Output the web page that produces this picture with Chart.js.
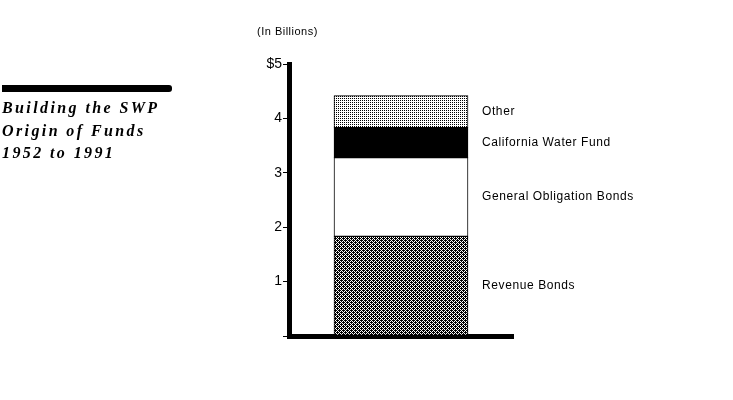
<!DOCTYPE html>
<html>
<head>
<meta charset="utf-8">
<script src="https://cdn.jsdelivr.net/npm/chart.js@4.4.0/dist/chart.umd.min.js"></script>
<style>
  body { margin: 0; background: #fff; }
  #wrap { position: relative; width: 733px; height: 400px; }
  #fundChart { position: absolute; left: 0; top: 0; }
  .rule { position: absolute; left: 2px; top: 85px; width: 170px; height: 7px; background: #000; border-radius: 0 3px 3px 0; }
  .title { position: absolute; left: 2px; top: 97px; font: italic bold 16px "Liberation Serif", serif; letter-spacing: 2.4px; line-height: 22.5px; color: #000; }
  .units { position: absolute; left: 257px; top: 25px; font: 11px "Liberation Sans", Arial, sans-serif; letter-spacing: 0.5px; color: #000; }
</style>
</head>
<body>
<div id="wrap">
  <canvas id="fundChart" width="733" height="400"></canvas>
  <div class="rule"></div>
  <div class="title">Building the SWP<br>Origin of Funds<br>1952 to 1991</div>
  <div class="units">(In Billions)</div>
</div>
<script>
// Origin of funds, in billions of dollars (stacked bottom to top)
const categories = ['1952-1991'];
const sources = ['Revenue Bonds', 'General Obligation Bonds', 'California Water Fund', 'Other'];
const revenueBonds = [1.83];
const generalObligation = [1.45];
const waterFund = [0.55];
const otherFunds = [0.59];
const yTickLabels = ['', '1', '2', '3', '4', '$5'];

// small bitmap-style fill patterns
function makePattern(size, pixels) {
  const tile = document.createElement('canvas');
  tile.width = size;
  tile.height = size;
  const t = tile.getContext('2d');
  t.fillStyle = '#fff';
  t.fillRect(0, 0, size, size);
  t.fillStyle = '#000';
  pixels.forEach(p => t.fillRect(p[0], p[1], 1, 1));
  return t.createPattern(tile, 'repeat');
}

const ctx = document.getElementById('fundChart').getContext('2d');
const checkered = makePattern(4, [[0,0],[2,0],[1,1],[3,1],[0,2],[2,2],[1,3],[3,3],[1,0],[3,2]]);
const dotted = makePattern(2, [[0,0]]);

// segment labels to the right of the bar
const segmentLabels = {
  id: 'segmentLabels',
  afterDatasetsDraw(chart) {
    const c = chart.ctx;
    c.save();
    c.font = '12px "Liberation Sans", Arial, sans-serif';
    c.letterSpacing = '0.6px';
    c.fillStyle = '#000';
    c.textBaseline = 'middle';
    chart.data.datasets.forEach((ds, i) => {
      const bar = chart.getDatasetMeta(i).data[0];
      c.fillText(ds.label, bar.x + bar.width / 2 + 14, (bar.y + bar.base) / 2);
    });
    c.restore();
  }
};

const fundChart = new Chart(ctx, {
  type: 'bar',
  data: {
    labels: categories,
    datasets: [
      { label: sources[0], data: revenueBonds, backgroundColor: checkered },
      { label: sources[1], data: generalObligation, backgroundColor: '#fff' },
      { label: sources[2], data: waterFund, backgroundColor: '#000' },
      { label: sources[3], data: otherFunds, backgroundColor: dotted }
    ].map(d => Object.assign(d, { borderColor: '#000', borderWidth: 1, borderSkipped: false }))
  },
  options: {
    responsive: false,
    animation: false,
    barThickness: 134,
    layout: { padding: { left: 0, right: 220, top: 64, bottom: 64 } },
    scales: {
      x: {
        stacked: true,
        grid: { display: false },
        ticks: { display: false },
        border: { display: true, color: '#000', width: 5 },
        afterFit: s => { s.height = 0; }
      },
      y: {
        stacked: true,
        min: 0,
        max: 5,
        ticks: {
          stepSize: 1,
          padding: 1,
          color: '#000',
          font: { family: '"Liberation Sans", Arial, sans-serif', size: 14 },
          callback: (v, i) => yTickLabels[i]
        },
        grid: { drawOnChartArea: false, drawTicks: true, tickLength: 6, color: '#000', lineWidth: 1 },
        border: { display: true, color: '#000', width: 5 },
        afterFit: s => { s.width = 289; }
      }
    },
    plugins: {
      legend: { display: false },
      tooltip: { enabled: false },
      title: { display: false }
    }
  },
  plugins: [segmentLabels]
});
</script>
</body>
</html>
